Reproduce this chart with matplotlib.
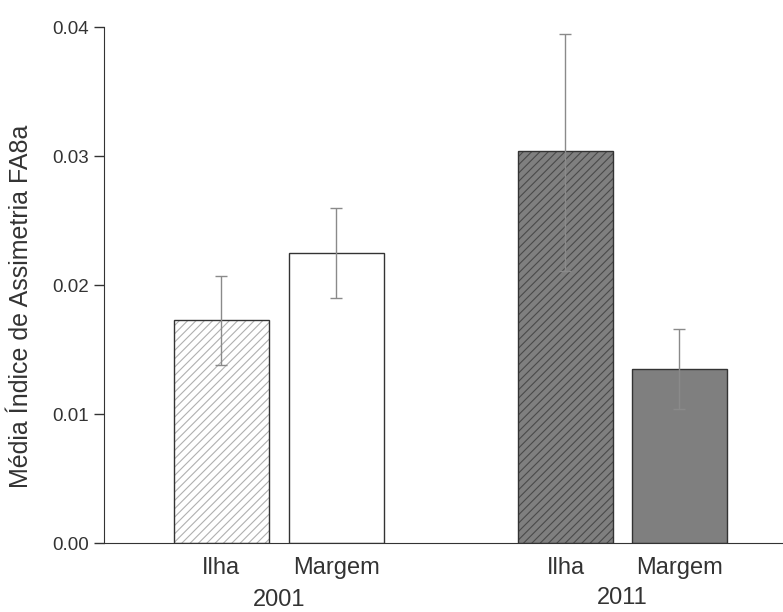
import matplotlib.pyplot as plt
import numpy as np

plt.rcParams['font.family'] = ['Liberation Sans', 'DejaVu Sans']

groups = ['2001', '2011']
sites = ['Ilha', 'Margem', 'Ilha', 'Margem']
means = [0.0173, 0.0225, 0.0304, 0.0135]
err_low = [0.0138, 0.0190, 0.0211, 0.0104]
err_high = [0.0207, 0.0260, 0.0395, 0.0166]

x = np.array([0, 1, 2.99, 3.98])
w = 0.83
faces = ['white', 'white', '#7f7f7f', '#7f7f7f']
hatches = ['////', None, '////', None]
hatch_cols = ['#b0b0b0', 'white', '#4a4a4a', '#7f7f7f']

fig = plt.figure(figsize=(7.83, 6.12), dpi=100)
ax = fig.add_axes([0.1328, 0.1127, 0.8672, 0.8431])

plt.rcParams['hatch.linewidth'] = 0.8
for i in range(4):
    # hatch layer, then outline on top
    ax.bar(x[i], means[i], w, color=faces[i], edgecolor=hatch_cols[i],
           hatch=hatches[i], linewidth=0, zorder=2)
    ax.bar(x[i], means[i], w, color='none', edgecolor='#333333',
           linewidth=1.0, zorder=3)

yerr = [np.array(means) - np.array(err_low), np.array(err_high) - np.array(means)]
ax.errorbar(x, means, yerr=yerr, fmt='none', ecolor='#8a8a8a',
            elinewidth=1.0, capsize=4, capthick=1.0, zorder=4)

ax.set_xlim(-1.02, 4.88)
ax.set_ylim(0, 0.04)
ax.set_yticks([0, 0.01, 0.02, 0.03, 0.04])
ax.set_yticklabels(['0.00', '0.01', '0.02', '0.03', '0.04'], fontsize=13.5, color='#333333')
ax.set_xticks(x)
ax.set_xticklabels(sites, fontsize=17, color='#333333')
ax.tick_params(axis='x', length=0, pad=10)
ax.tick_params(axis='y', length=7, width=1, color='#333333', pad=4)
ax.spines['top'].set_visible(False)
ax.spines['right'].set_visible(False)
ax.spines['left'].set_color('#333333')
ax.spines['bottom'].set_color('#333333')
ax.set_ylabel('Média Índice de Assimetria FA8a', fontsize=18, color='#333333')
ax.yaxis.set_label_coords(-0.104, 0.459)

ax.text((x[0] + x[1]) / 2, -0.0044, groups[0], fontsize=17, color='#333333', ha='center', va='center')
ax.text((x[2] + x[3]) / 2, -0.0043, groups[1], fontsize=17, color='#333333', ha='center', va='center')

fig.savefig('out.png', dpi=100)
